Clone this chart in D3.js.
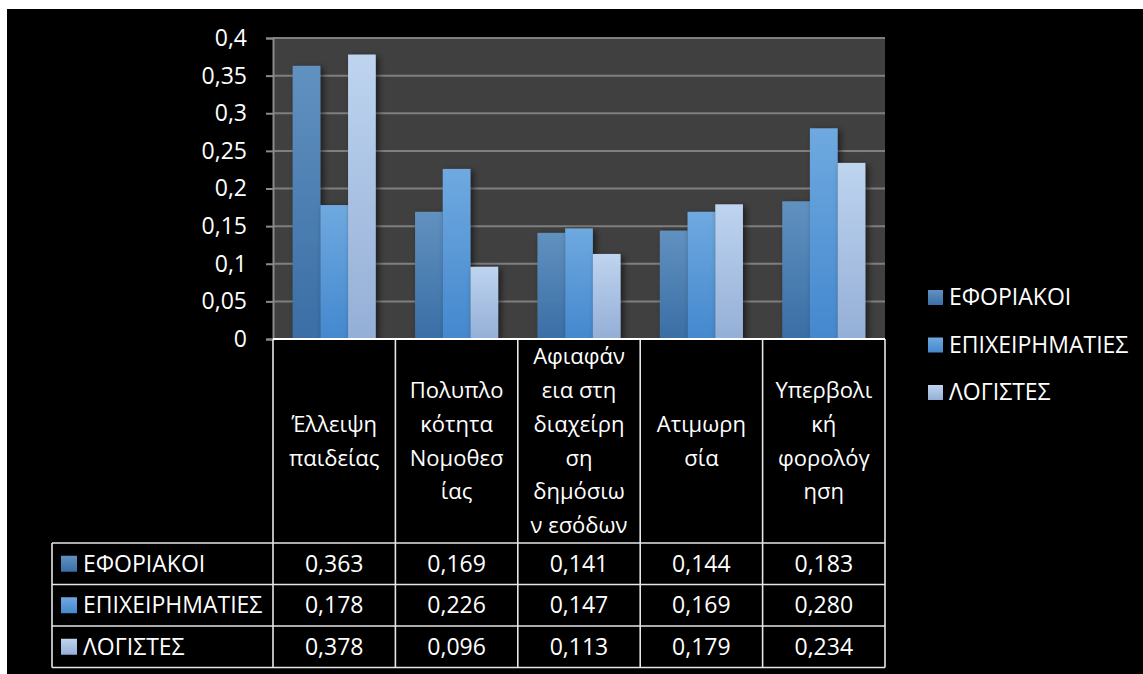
<!DOCTYPE html>
<html>
<head>
<meta charset="utf-8">
<script src="https://cdn.jsdelivr.net/npm/d3@7"></script>
<style>
  html, body { margin: 0; padding: 0; background: #fff; }
  svg { display: block; }
  text { font-family: "Open Sans", "Noto Sans", sans-serif; fill: #fff; }
</style>
</head>
<body>
<svg id="chart" width="1143" height="674"></svg>
<script>
// Categories, each already split into the lines shown under the axis
const categoryLines = [
  ["Έλλειψη", "παιδείας"],
  ["Πολυπλο", "κότητα", "Νομοθεσ", "ίας"],
  ["Αφιαφάν", "εια στη", "διαχείρη", "ση", "δημόσιω", "ν εσόδων"],
  ["Ατιμωρη", "σία"],
  ["Υπερβολι", "κή", "φορολόγ", "ηση"]
];
const seriesNames = ["ΕΦΟΡΙΑΚΟΙ", "ΕΠΙΧΕΙΡΗΜΑΤΙΕΣ", "ΛΟΓΙΣΤΕΣ"];
const eforiakoi = [0.363, 0.169, 0.141, 0.144, 0.183];
const epixeirimaties = [0.178, 0.226, 0.147, 0.169, 0.280];
const logistes = [0.378, 0.096, 0.113, 0.179, 0.234];
const yTicks = [0, 0.05, 0.1, 0.15, 0.2, 0.25, 0.3, 0.35, 0.4];

const seriesValues = [eforiakoi, epixeirimaties, logistes];
const gradStops = [
  ["#6191c0", "#3a6ea5"],
  ["#6fa9e0", "#4488ce"],
  ["#bed4ef", "#94afd7"]
];

const svg = d3.select("#chart");
const W = 1143, H = 674;

// black canvas with a thin white frame on the top and left
svg.append("rect").attr("x", 0).attr("y", 0).attr("width", W).attr("height", H).attr("fill", "#fff");
svg.append("rect").attr("x", 7).attr("y", 9).attr("width", W - 7).attr("height", H - 9).attr("fill", "#000");

const defs = svg.append("defs");
gradStops.forEach((s, i) => {
  const g = defs.append("linearGradient").attr("id", "grad" + i)
    .attr("x1", 0).attr("y1", 0).attr("x2", 0).attr("y2", 1);
  g.append("stop").attr("offset", "0%").attr("stop-color", s[0]);
  g.append("stop").attr("offset", "100%").attr("stop-color", s[1]);
});
const shadow = defs.append("filter").attr("id", "shadow")
  .attr("x", "-30%").attr("y", "-10%").attr("width", "160%").attr("height", "120%");
shadow.append("feDropShadow").attr("dx", 3).attr("dy", 2).attr("stdDeviation", 3)
  .attr("flood-color", "#000").attr("flood-opacity", 0.55);

const plot = { left: 273, right: 885, top: 38, bottom: 339 };

const x = d3.scaleBand().domain(d3.range(categoryLines.length))
  .range([plot.left, plot.right]).padding(0);
const y = d3.scaleLinear().domain([0, 0.4]).range([plot.bottom, plot.top]);

// plot area
svg.append("rect")
  .attr("x", plot.left).attr("y", plot.top)
  .attr("width", plot.right - plot.left).attr("height", plot.bottom - plot.top)
  .attr("fill", "#404040");

// gridlines
svg.append("g")
  .selectAll("line").data(yTicks.filter(d => d > 0)).join("line")
  .attr("x1", plot.left).attr("x2", plot.right)
  .attr("y1", d => y(d)).attr("y2", d => y(d))
  .attr("stroke", "#7f7f7f").attr("stroke-width", 2);

// y axis
const yAxis = svg.append("g").attr("transform", `translate(${plot.left},0)`)
  .call(d3.axisLeft(y).tickValues(yTicks).tickSize(7).tickPadding(19)
    .tickFormat(d => String(d).replace(".", ",")));
yAxis.select(".domain").attr("stroke", "#8a8a8a").attr("stroke-width", 2);
yAxis.selectAll(".tick line").attr("stroke", "#8a8a8a").attr("stroke-width", 2);
yAxis.selectAll(".tick text")
  .style("font-family", "'Open Sans', sans-serif").style("font-size", "23px")
  .attr("fill", "#fff");

// bars
const gapWidth = 1.42;
const barW = x.bandwidth() / (seriesNames.length + gapWidth);
const inner = d3.scaleBand().domain(d3.range(seriesNames.length))
  .range([barW * gapWidth / 2, x.bandwidth() - barW * gapWidth / 2]).padding(0);

seriesValues.forEach((vals, si) => {
  svg.append("g").attr("filter", "url(#shadow)")
    .selectAll("rect").data(vals).join("rect")
    .attr("x", (d, i) => x(i) + inner(si))
    .attr("width", inner.bandwidth())
    .attr("y", d => y(d))
    .attr("height", d => y(0) - y(d))
    .attr("fill", `url(#grad${si})`);
});

// data table
const table = { left: 52, headerBottom: 543, rowH: 41.5 };
const lineColor = "#e6e6e6";
const tg = svg.append("g");

// header cells (category labels)
const colEdges = d3.range(categoryLines.length + 1).map(i => i < categoryLines.length ? x(i) : plot.right);
tg.selectAll("line.col").data(colEdges).join("line")
  .attr("x1", d => d).attr("x2", d => d)
  .attr("y1", plot.bottom).attr("y2", table.headerBottom + table.rowH * 3)
  .attr("stroke", lineColor).attr("stroke-width", 1.6);
tg.append("line").attr("x1", plot.left).attr("x2", plot.right)
  .attr("y1", plot.bottom).attr("y2", plot.bottom)
  .attr("stroke", "#fff").attr("stroke-width", 2);

// row lines
const rowYs = d3.range(4).map(r => table.headerBottom + r * table.rowH);
tg.selectAll("line.row").data(rowYs).join("line")
  .attr("x1", table.left).attr("x2", plot.right)
  .attr("y1", d => d).attr("y2", d => d)
  .attr("stroke", lineColor).attr("stroke-width", 1.6);
tg.append("line").attr("x1", table.left).attr("x2", table.left)
  .attr("y1", table.headerBottom).attr("y2", rowYs[3])
  .attr("stroke", lineColor).attr("stroke-width", 1.6);

// category labels
const lineStep = 33.8;
const headerMid = (plot.bottom + table.headerBottom) / 2;
categoryLines.forEach((lines, i) => {
  const cx = x(i) + x.bandwidth() / 2;
  const y0 = headerMid - (lines.length - 1) * lineStep / 2;
  tg.append("text")
    .attr("text-anchor", "middle")
    .style("font-size", "22px")
    .selectAll("tspan").data(lines).join("tspan")
    .attr("x", cx).attr("y", (d, k) => y0 + k * lineStep)
    .attr("dy", "0.35em")
    .text(d => d);
});

// table rows: legend key, series name, values
seriesNames.forEach((name, si) => {
  const cy = rowYs[si] + table.rowH / 2;
  tg.append("rect").attr("x", 61).attr("y", cy - 8).attr("width", 16).attr("height", 16)
    .attr("fill", `url(#grad${si})`);
  tg.append("text").attr("x", 83).attr("y", cy).attr("dy", "0.35em")
    .style("font-size", "23px").text(name);
  tg.selectAll(null).data(seriesValues[si]).join("text")
    .attr("x", (d, i) => x(i) + x.bandwidth() / 2).attr("y", cy).attr("dy", "0.35em")
    .attr("text-anchor", "middle").style("font-size", "23px")
    .text(d => d3.format(".3f")(d).replace(".", ","));
});

// legend
const legend = svg.append("g");
seriesNames.forEach((name, si) => {
  const ly = 297 + si * 47.5;
  legend.append("rect").attr("x", 928).attr("y", ly - 7).attr("width", 15).attr("height", 15)
    .attr("fill", `url(#grad${si})`);
  legend.append("text").attr("x", 949).attr("y", ly).attr("dy", "0.35em")
    .style("font-size", "23px").text(name);
});
</script>
</body>
</html>
